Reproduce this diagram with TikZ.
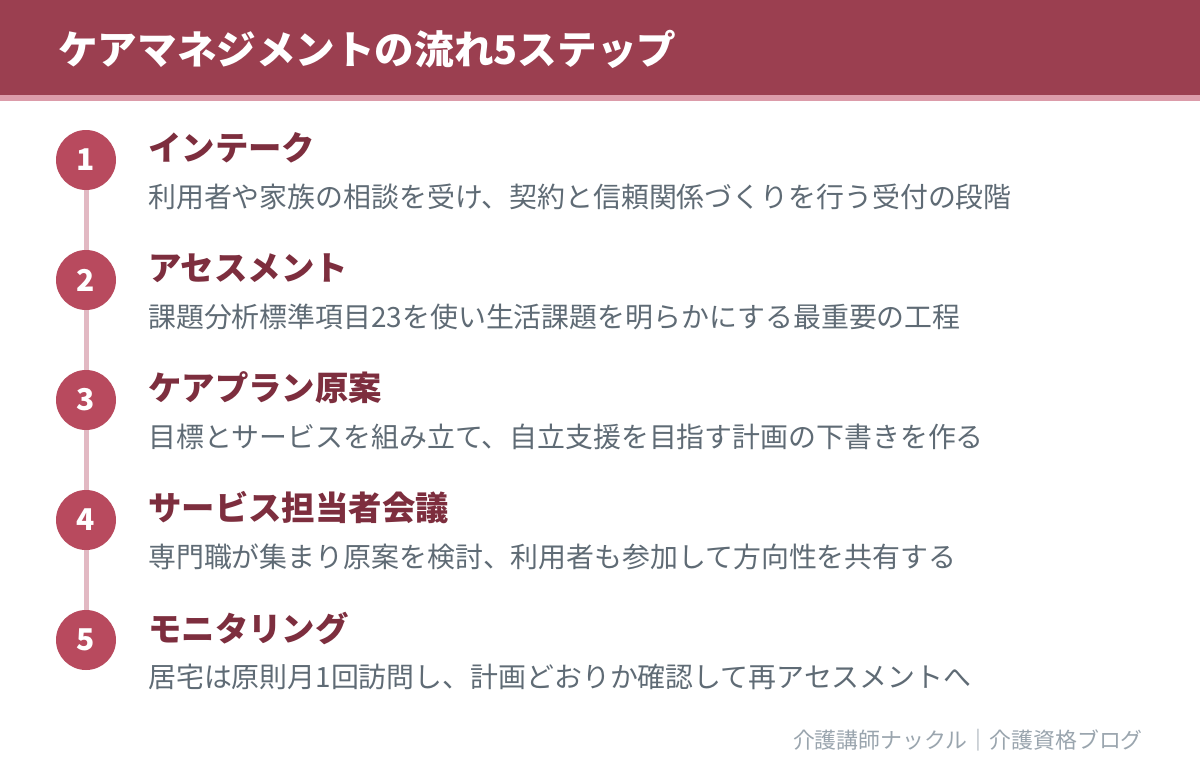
\documentclass[tikz,border=0pt]{standalone}
\usepackage{fontspec}
\usepackage{xcolor}
\setmainfont{Noto Sans CJK JP}
\usetikzlibrary{calc}

\definecolor{bandred}{HTML}{9B3F50}
\definecolor{bandpink}{HTML}{DC9CAA}
\definecolor{dotred}{HTML}{B84A5E}
\definecolor{linepink}{HTML}{E2B9C3}
\definecolor{headred}{HTML}{7D2E3E}
\definecolor{descgray}{HTML}{5F6B75}
\definecolor{footgray}{HTML}{9AA5AE}

\tikzset{
    stepdot/.style={circle, fill=dotred, minimum size=60pt, inner sep=0pt,
        text=white, font=\fontsize{30}{32}\selectfont\bfseries},
    stephead/.style={anchor=west, inner sep=0pt, text=headred,
        font=\fontsize{33.4}{36}\selectfont\bfseries},
    stepdesc/.style={anchor=west, inner sep=0pt, text=descgray,
        font=\fontsize{27.9}{30}\selectfont}
}

\begin{document}
\begin{tikzpicture}[x=1pt, y=-1pt]
\useasboundingbox (0, 0) rectangle (1200, 772);
\fill[white] (0, 0) rectangle (1200, 772);

% header
\fill[bandred] (0, 0) rectangle (1200, 95);
\fill[bandpink] (0, 95) rectangle (1200, 101);
\node (title) [anchor=west, inner sep=0pt, text=white,
    font=\fontsize{39.6}{42}\selectfont\bfseries] at (58, 49) {ケアマネジメントの流れ5ステップ};

\begin{scope}[every node/.style={}]
    % step
    \node (D1) [stepdot] at (86, 160) {1};
    \node (H1) [stephead] at (148, 148) {インテーク};
    \node (T1) [stepdesc] at (148, 197) {利用者や家族の相談を受け、契約と信頼関係づくりを行う受付の段階};
    % step
    \node (D2) [stepdot] at (86, 280) {2};
    \node (H2) [stephead] at (148, 268) {アセスメント};
    \node (T2) [stepdesc] at (148, 317) {課題分析標準項目23を使い生活課題を明らかにする最重要の工程};
    % step
    \node (D3) [stepdot] at (86, 400) {3};
    \node (H3) [stephead] at (148, 388) {ケアプラン原案};
    \node (T3) [stepdesc] at (148, 437) {目標とサービスを組み立て、自立支援を目指す計画の下書きを作る};
    % step
    \node (D4) [stepdot] at (86, 520) {4};
    \node (H4) [stephead] at (148, 508) {サービス担当者会議};
    \node (T4) [stepdesc] at (148, 557) {専門職が集まり原案を検討、利用者も参加して方向性を共有する};
    % step
    \node (D5) [stepdot] at (86, 640) {5};
    \node (H5) [stephead] at (148, 628) {モニタリング};
    \node (T5) [stepdesc] at (148, 677) {居宅は原則月1回訪問し、計画どおりか確認して再アセスメントへ};
\end{scope}

\begin{scope}[every path/.style={draw=linepink, line width=5pt}]
    \foreach \a/\b in {1/2, 2/3, 3/4, 4/5}
        \path (D\a.south) -- (D\b.north);
\end{scope}

% footer
\node (foot) [anchor=east, inner sep=0pt, text=footgray,
    font=\fontsize{21.9}{24}\selectfont] at (1143, 740) {介護講師ナックル｜介護資格ブログ};
\end{tikzpicture}
\end{document}
